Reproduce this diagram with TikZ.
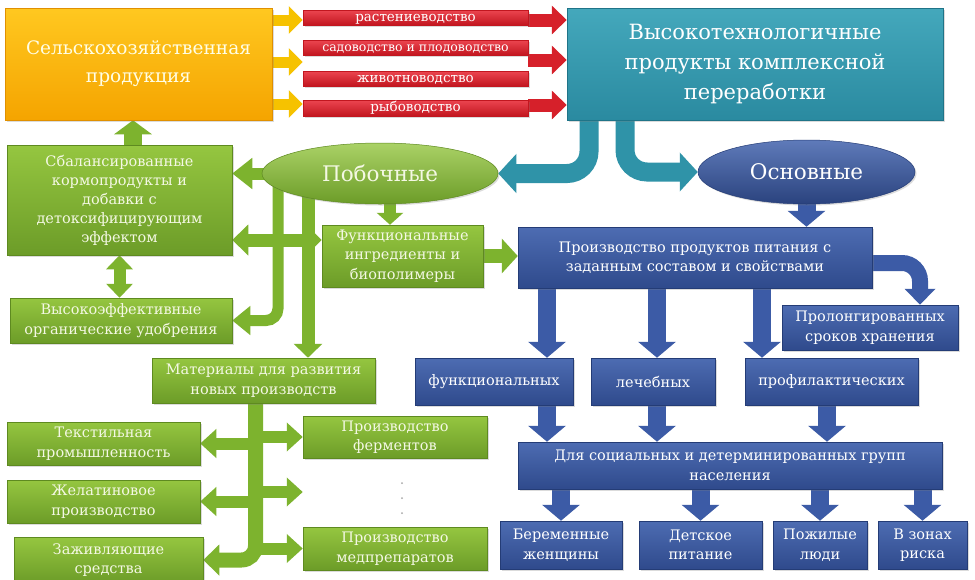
\documentclass[tikz,border=0pt]{standalone}
\usepackage{fontspec}
\setmainfont{DejaVu Serif}
\usetikzlibrary{shapes.geometric,arrows.meta,backgrounds,shadows,calc}
\definecolor{gTop}{HTML}{95C640}
\definecolor{gBot}{HTML}{6C9C28}
\definecolor{gLine}{HTML}{5E8A20}
\definecolor{gArr}{HTML}{7DB32E}
\definecolor{gText}{HTML}{F4F8E4}
\definecolor{bTop}{HTML}{4D6CB2}
\definecolor{bBot}{HTML}{2F4A8C}
\definecolor{bLine}{HTML}{243C76}
\definecolor{bArr}{HTML}{3C5BA6}
\definecolor{tTop}{HTML}{44A8BC}
\definecolor{tBot}{HTML}{2A8AA0}
\definecolor{tLine}{HTML}{1F7488}
\definecolor{tArr}{HTML}{2F93A8}
\definecolor{oTop}{HTML}{FFC820}
\definecolor{oBot}{HTML}{F5A400}
\definecolor{oLine}{HTML}{E09000}
\definecolor{yArr}{HTML}{F6C200}
\definecolor{rTop}{HTML}{EC4550}
\definecolor{rBot}{HTML}{C2161F}
\definecolor{rArr}{HTML}{D6202A}
\tikzset{
  wh/.style 2 args={minimum width=#1pt, minimum height=#2pt},
  base/.style={rectangle, inner sep=2pt, align=center, line width=0.5pt,
    font=\fontsize{14.5}{19.5}\selectfont,
    drop shadow={opacity=0.28, shadow xshift=1.5pt, shadow yshift=-1.5pt}},
  gbox/.style={base, top color=gTop, bottom color=gBot, draw=gLine, text=gText},
  bbox/.style={base, top color=bTop, bottom color=bBot, draw=bLine, text=white},
  tbox/.style={base, top color=tTop, bottom color=tBot, draw=tLine, text=white,
    font=\fontsize{21}{30}\selectfont},
  obox/.style={base, top color=oTop, bottom color=oBot, draw=oLine, text=white!90!yellow,
    font=\fontsize{18.5}{28}\selectfont},
  rbar/.style={base, top color=rTop, bottom color=rBot, draw=rBot, text=white,
    inner sep=0pt, text height=10pt, text depth=3pt, font=\fontsize{13.5}{16}\selectfont},
  gell/.style={ellipse, inner sep=0pt, top color=gTop!80!white, bottom color=gBot, draw=gLine,
    line width=0.5pt, text=gText, font=\fontsize{21.5}{26}\selectfont,
    drop shadow={opacity=0.28, shadow xshift=1.5pt, shadow yshift=-1.5pt}},
  bell/.style={ellipse, inner sep=0pt, top color=bTop!90!white, bottom color=bBot!90!black, draw=bLine,
    line width=0.5pt, text=white, font=\fontsize{21.5}{26}\selectfont,
    drop shadow={opacity=0.28, shadow xshift=1.5pt, shadow yshift=-1.5pt}},
  ga/.style n args={3}{draw=gArr, line width=#1pt, -{Triangle[width=#2pt,length=#3pt]}},
  gda/.style n args={3}{draw=gArr, line width=#1pt, {Triangle[width=#2pt,length=#3pt]}-{Triangle[width=#2pt,length=#3pt]}},
  ba/.style n args={3}{draw=bArr, line width=#1pt, -{Triangle[width=#2pt,length=#3pt]}},
  ta/.style n args={3}{draw=tArr, line width=#1pt, -{Triangle[width=#2pt,length=#3pt]}},
  ya/.style={draw=yArr, line width=11pt, -{Triangle[width=27pt,length=14pt]}},
  ra/.style={draw=rArr, line width=13pt, -{Triangle[width=28pt,length=15pt]}},
}
\begin{document}
\begin{tikzpicture}[x=1pt, y=-1pt]
\useasboundingbox (0,0) rectangle (975,579);
% top row
\node[obox, wh={267}{112}] (orange) at (138.5,64) {Сельскохозяйственная\\продукция};
\node[tbox, wh={376}{112}] (teal) at (755,64) {Высокотехнологичные\\продукты комплексной\\переработки};
\node[rbar, wh={225}{15}] (r1) at (415.5,17.5) {растениеводство};
\node[rbar, wh={225}{15}, font=\fontsize{12.5}{15}\selectfont] (r2) at (415.5,47.5) {садоводство и плодоводство};
\node[rbar, wh={225}{15}] (r3) at (415.5,78.5) {животноводство};
\node[rbar, wh={225}{16}] (r4) at (415.5,108) {рыбоводство};
% middle
\node[gbox, wh={225}{110}, font=\fontsize{14.5}{19}\selectfont] (box1) at (119.5,200) {Сбалансированные\\кормопродукты и\\добавки с\\детоксифицирующим\\эффектом};
\node[gell, minimum width=236pt, minimum height=61pt] (pob) at (380,173.5) {Побочные};
\node[bell, minimum width=217pt, minimum height=64pt] (osn) at (806.5,172) {Основные};
\node[gbox, wh={161}{62}] (func) at (402.5,256) {Функциональные\\ингредиенты и\\биополимеры};
\node[bbox, wh={354}{61}] (prod) at (695,257.5) {Производство продуктов питания с\\заданным составом и свойствами};
\node[gbox, wh={222}{45}] (box2) at (121,320.5) {Высокоэффективные\\органические удобрения};
\node[bbox, wh={176}{45}] (prol) at (870,327.5) {Пролонгированных\\сроков хранения};
\node[bbox, wh={158}{47}] (fn) at (494,381.5) {функциональных};
\node[bbox, wh={124}{47}] (lech) at (653,381.5) {лечебных};
\node[bbox, wh={173}{47}] (prof) at (831.5,381.5) {профилактических};
\node[gbox, wh={223}{45}] (mat) at (263.5,380.5) {Материалы для развития\\новых производств};
\node[bbox, wh={424}{47}] (soc) at (730,465.5) {Для социальных и детерминированных групп\\населения};
% bottom left
\node[gbox, wh={193}{43}] (tex) at (103.5,443.5) {Текстильная\\промышленность};
\node[gbox, wh={184}{42}] (ferm) at (395,437) {Производство\\ферментов};
\node[gbox, wh={193}{43}] (zhel) at (103.5,501.5) {Желатиновое\\производство};
\node[gbox, wh={189}{46}] (zaj) at (108.5,560) {Заживляющие\\средства};
\node[gbox, wh={184}{43}] (med) at (395,548.5) {Производство\\медпрепаратов};
% bottom right
\node[bbox, wh={122}{48}] (ber) at (561,545) {Беременные\\женщины};
\node[bbox, wh={123}{48}] (det) at (700.5,545) {Детское\\питание};
\node[bbox, wh={94}{48}] (pozh) at (820,545) {Пожилые\\люди};
\node[bbox, wh={89}{48}] (zon) at (922.5,545) {В зонах\\риска};
% helper coordinates
\coordinate (ya1) at (0,20); \coordinate (ya2) at (0,62); \coordinate (ya3) at (0,104);
\coordinate (ra1) at (0,20); \coordinate (ra2) at (0,60); \coordinate (ra3) at (0,105);
\coordinate (tx1) at (589,0); \coordinate (tx2) at (625,0);
\coordinate (gx1) at (133,0); \coordinate (gxa) at (278,0); \coordinate (gxb) at (308,0);
\coordinate (gx3) at (390,0); \coordinate (gy1) at (0,240); \coordinate (gxc) at (255.5,0);
\coordinate (gyd) at (0,492);
\coordinate (bx1) at (547,0); \coordinate (bx2) at (657,0); \coordinate (bx3) at (762,0);
\coordinate (bx4) at (920,0); \coordinate (bx5) at (827,0); \coordinate (by1) at (0,263);
\begin{scope}[on background layer]
\fill[white] (0,0) rectangle (975,579);
% yellow and red arrows
\draw[ya] (orange.east |- ya1) -- (r1.west |- ya1);
\draw[ya] (orange.east |- ya2) -- (r2.west |- ya2);
\draw[ya] (orange.east |- ya3) -- (r4.west |- ya3);
\draw[ra] (r1.east |- ra1) -- (teal.west |- ra1);
\draw[ra] (r2.east |- ra2) -- (teal.west |- ra2);
\draw[ra] (r4.east |- ra3) -- (teal.west |- ra3);
% teal arrows
\draw[ta={19}{38}{18}, rounded corners=22pt] (teal.south -| tx1) |- (pob.east);
\draw[ta={19}{38}{18}, rounded corners=22pt] (teal.south -| tx2) |- (osn.west);
% green arrows
\draw[ga={18}{37}{14}] (box1.north -| gx1) -- (orange.south -| gx1);
\draw[ga={12}{30}{20}] ([xshift=10pt]pob.west) -- (pob.west -| box1.east);
\draw[ga={11}{28}{18}, rounded corners=12pt] (pob.center -| gxa) |- (box2.east);
\draw[ga={13}{28}{14}] (pob.center -| gxb) -- (mat.north -| gxb);
\draw[gda={13}{30}{16}] (box1.east |- gy1) -- (func.west |- gy1);
\draw[gda={12}{26}{14}] (box1.south) -- (box1.south |- box2.north);
\draw[ga={12}{26}{12}] (pob.center -| gx3) -- (func.north -| gx3);
\draw[ga={14}{34}{16}] (func.east) -- (func.east -| prod.west);
\draw[ga={15}{30}{16}, rounded corners=14pt] (mat.south -| gxc) |- (zaj.east);
\draw[ga={12}{28}{16}] (tex.east -| gxc) -- (tex.east);
\draw[ga={12}{28}{16}] (zhel.east -| gxc) -- (zhel.east);
\draw[ga={12}{28}{16}] (ferm.west -| gxc) -- (ferm.west);
\draw[ga={12}{28}{16}] (gxc |- gyd) -- (ferm.west |- gyd);
\draw[ga={12}{28}{16}] (med.west -| gxc) -- (med.west);
% blue arrows
\draw[ba={18}{37}{16}] (osn.center) -- (osn.center |- prod.north);
\draw[ba={18}{37}{16}] (prod.south -| bx1) -- (fn.north -| bx1);
\draw[ba={18}{37}{16}] (prod.south -| bx2) -- (lech.north -| bx2);
\draw[ba={18}{37}{16}] (prod.south -| bx3) -- (prof.north -| bx3);
\draw[ba={16}{30}{16}, rounded corners=18pt] (prod.center |- by1) -| (prol.north -| bx4);
\draw[ba={18}{37}{16}] (fn.south -| bx1) -- (soc.north -| bx1);
\draw[ba={18}{37}{16}] (lech.south -| bx2) -- (soc.north -| bx2);
\draw[ba={18}{37}{16}] (prof.south -| bx5) -- (soc.north -| bx5);
\draw[ba={18}{37}{16}] (soc.south -| ber.north) -- (ber.north);
\draw[ba={18}{37}{16}] (soc.south -| det.north) -- (det.north);
\draw[ba={18}{37}{16}] (soc.south -| pozh.north) -- (pozh.north);
\draw[ba={18}{37}{16}] (soc.south -| zon.north) -- (zon.north);
\end{scope}
% dots
\fill[gray!70] (402,483) circle (1pt) (402,498) circle (1pt) (402,513) circle (1pt);
\end{tikzpicture}
\end{document}
